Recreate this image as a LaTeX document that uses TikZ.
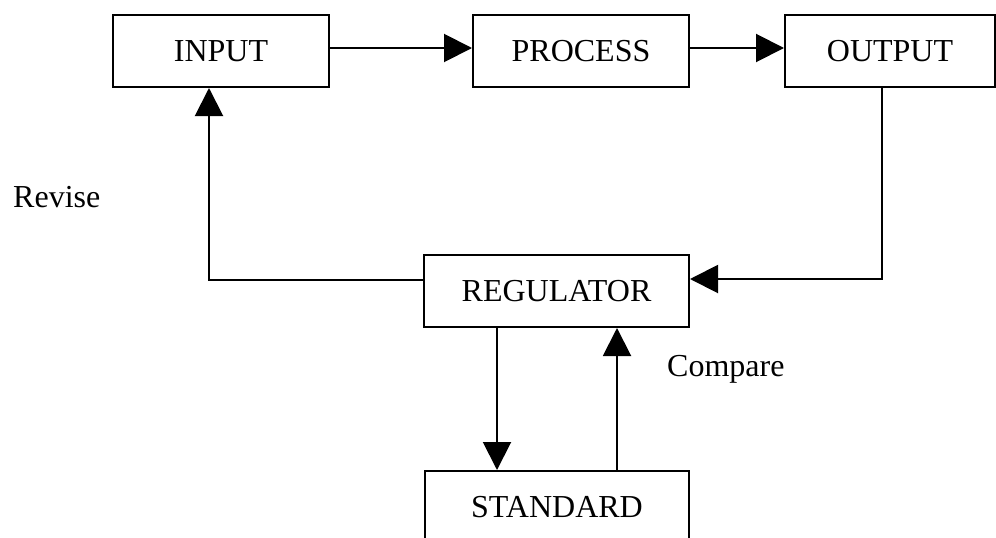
\documentclass[tikz,border=0pt]{standalone}
\usepackage{fontspec}
\setmainfont{Liberation Serif}
\usetikzlibrary{arrows.meta}
\begin{document}
\begin{tikzpicture}[x=1pt,y=-1pt,
  box/.style={draw,line width=2pt,minimum height=72pt,inner sep=0pt,font=\fontsize{32}{38}\selectfont},
  conn/.style={line width=2pt,-{Triangle[length=28pt,width=28pt]}},
  lbl/.style={inner sep=0pt,anchor=base west,font=\fontsize{32}{38}\selectfont}]
\useasboundingbox (0,0) rectangle (996,538);
\node[box,minimum width=216pt] (inp) at (221,51) {INPUT};
\node[box,minimum width=216pt] (proc) at (581,51) {PROCESS};
\node[box,minimum width=210pt] (out) at (890,51) {OUTPUT};
\node[box,minimum width=265pt] (reg) at (556.5,291) {REGULATOR};
\node[box,minimum width=264pt] (std) at (557,507) {STANDARD};
\node[lbl] (rev) at (13,207) {Revise};
\node[lbl] (cmp) at (667,376) {Compare};
\draw[conn] ([yshift=3pt]inp.east) -- ([yshift=3pt]proc.west);
\draw[conn] ([yshift=3pt]proc.east) -- ([yshift=3pt]out.west);
\draw[conn] ([xshift=-8pt]out.south) |- ([yshift=12pt]reg.east);
\draw[conn] ([yshift=11pt]reg.west) -| ([xshift=-12pt]inp.south);
\draw[conn] ([xshift=-59.5pt]reg.south) -- ([xshift=-60pt]std.north);
\draw[conn] ([xshift=60pt]std.north) -- ([xshift=60.5pt]reg.south);
\end{tikzpicture}
\end{document}
